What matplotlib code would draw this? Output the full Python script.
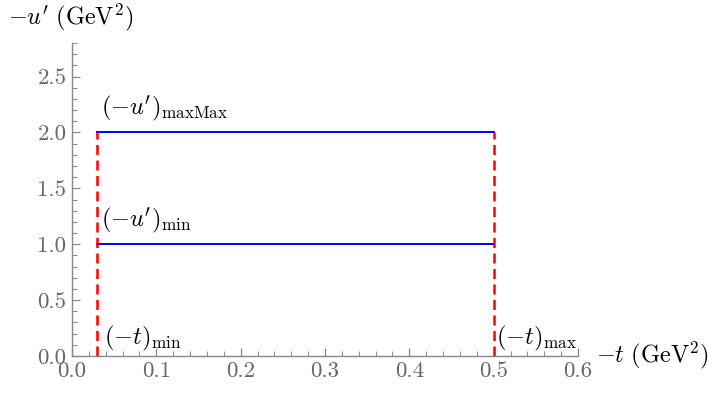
import matplotlib
matplotlib.use("Agg")
import matplotlib.pyplot as plt
from matplotlib.ticker import MultipleLocator, FormatStrFormatter

plt.rcParams['font.family'] = 'serif'
plt.rcParams['font.serif'] = ['cmr10']
plt.rcParams['mathtext.fontset'] = 'cm'
plt.rcParams['axes.formatter.use_mathtext'] = True

t_min = 0.03
t_max = 0.5
u_levels = [1.0, 2.0]
u_labels = [r"$(-u')_{\mathrm{min}}$", r"$(-u')_{\mathrm{maxMax}}$"]
x_ticks = [0.0, 0.1, 0.2, 0.3, 0.4, 0.5, 0.6]
y_ticks = [0.0, 0.5, 1.0, 1.5, 2.0, 2.5]

fig = plt.figure(figsize=(7.08, 3.98), dpi=100)
ax = fig.add_axes([72/708, 42/398, (578-72)/708, (356-43)/398])
ax.set_xlim(0, 0.6)
ax.set_ylim(0, 2.8)

for u in u_levels:
    ax.plot([t_min, t_max], [u, u], color='#0000ff', lw=1.4, zorder=3)
for t in [t_min, t_max]:
    ax.plot([t, t], [0, max(u_levels)], color='#ff0000', lw=1.8, ls=(0, (4, 2.2)), zorder=4)

for u, lab in zip(u_levels, u_labels):
    ax.text(t_min + 0.004, u + 0.08, lab, fontsize=17.5, ha='left', va='bottom')
ax.text(t_min + 0.008, 0.03, r"$(-t)_{\mathrm{min}}$", fontsize=17.5, ha='left', va='bottom')
ax.text(t_max + 0.003, 0.03, r"$(-t)_{\mathrm{max}}$", fontsize=17.5, ha='left', va='bottom')

for s in ['top', 'right']:
    ax.spines[s].set_visible(False)
for s in ['left', 'bottom']:
    ax.spines[s].set_color('#888888')
    ax.spines[s].set_linewidth(1.0)

ax.set_xticks(x_ticks)
ax.set_yticks(y_ticks)
ax.xaxis.set_major_formatter(FormatStrFormatter('%.1f'))
ax.yaxis.set_major_formatter(FormatStrFormatter('%.1f'))
ax.xaxis.set_minor_locator(MultipleLocator(0.02))
ax.yaxis.set_minor_locator(MultipleLocator(0.1))
ax.tick_params(which='major', direction='in', length=6, width=0.9, color='#888888',
               labelsize=16.5, labelcolor='#666666', pad=4)
ax.tick_params(which='minor', direction='in', length=3.5, width=0.7, color='#888888')
ax.set_facecolor('none')

fig.text(8/708, 1 - 17/398, r"$-u'\ (\mathrm{GeV}^2)$", fontsize=17.5, ha='left', va='center')
fig.text(596/708, 1 - 355/398, r"$-t\ (\mathrm{GeV}^2)$", fontsize=17.5, ha='left', va='center')

fig.savefig("out.png", dpi=100)
